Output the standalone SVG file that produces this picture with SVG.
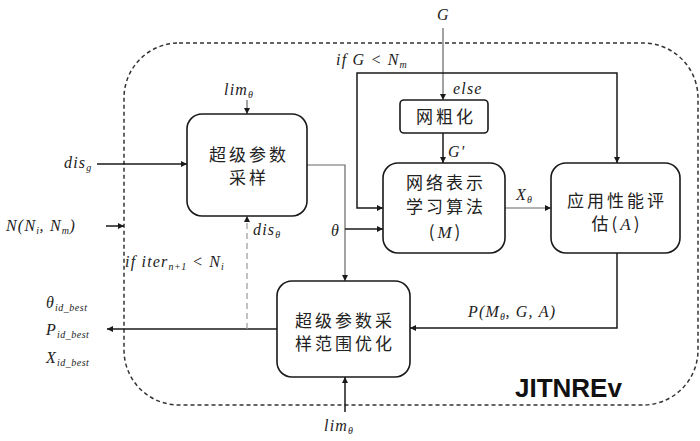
<svg xmlns="http://www.w3.org/2000/svg" width="700" height="441" viewBox="0 0 700 441">
<style>
.box{fill:#fff;stroke:#1a1a1a;stroke-width:1.6}
.cn{font-family:"Noto Sans CJK SC","Noto Sans",sans-serif;font-size:17px;fill:#222;text-anchor:middle;letter-spacing:3px}
.m{font-family:"Liberation Serif",serif;font-style:italic;font-size:16px;fill:#222;letter-spacing:1.2px}
.s{font-size:10px;letter-spacing:0.5px}
.ln{fill:none;stroke:#1a1a1a;stroke-width:1.5}
.lg{fill:none;stroke:#666;stroke-width:1.2}
.dash{fill:none;stroke:#999;stroke-width:1.2;stroke-dasharray:6 4}
</style>
<defs>
<marker id="ar" viewBox="0 0 6 6" refX="6" refY="3" markerWidth="6" markerHeight="6" markerUnits="userSpaceOnUse" orient="auto"><path d="M0,0 L6,3 L0,6 z" fill="#1a1a1a"/></marker>
</defs>
<rect x="124" y="43" width="574" height="362" rx="55" fill="none" stroke="#333" stroke-width="1.5" stroke-dasharray="4 3"/>
<g id="connectors">
<path class="ln" d="M97,164 H187" marker-end="url(#ar)"/>
<path class="ln" d="M106,226 H124" marker-end="url(#ar)"/>
<path class="lg" d="M247,100 V114" marker-end="url(#ar)"/>
<path class="lg" d="M443,28 V100" marker-end="url(#ar)"/>
<path class="ln" d="M443,73 H357 V208 H383" marker-end="url(#ar)"/>
<path class="ln" d="M443,73 H617 V163" marker-end="url(#ar)"/>
<path class="ln" d="M443,133 V163" marker-end="url(#ar)"/>
<path class="lg" d="M307,165 H345 V281" marker-end="url(#ar)"/>
<path class="ln" d="M345,229 H383" marker-end="url(#ar)"/>
<path class="lg" d="M505,208 H551" marker-end="url(#ar)"/>
<path class="ln" d="M617,253 V328 H410" marker-end="url(#ar)"/>
<path class="ln" d="M345,412 V377" marker-end="url(#ar)"/>
<path class="ln" d="M277,329 H107" marker-end="url(#ar)"/>
<path class="dash" d="M247,329 V216" marker-end="url(#ar)"/>
</g>
<g id="n1"><rect class="box" x="187" y="114" width="120" height="102" rx="15"/>
<text class="cn" x="249" y="161">超级参数</text><text class="cn" x="249" y="184">采样</text></g>
<g id="n2"><rect class="box" x="400" y="100" width="88" height="33" rx="4"/>
<text class="cn" x="446" y="123">网粗化</text></g>
<g id="n3"><rect class="box" x="383" y="163" width="122" height="90" rx="15"/>
<text class="cn" x="446" y="189">网络表示</text><text class="cn" x="446" y="213">学习算法</text><text class="cn" x="446" y="238">(<tspan font-family="Liberation Serif" font-style="italic">M</tspan>)</text></g>
<g id="n4"><rect class="box" x="551" y="163" width="129" height="90" rx="15"/>
<text class="cn" x="617" y="207">应用性能评</text><text class="cn" x="617" y="230">估(<tspan font-family="Liberation Serif" font-style="italic">A</tspan>)</text></g>
<g id="n5"><rect class="box" x="277" y="281" width="133" height="96" rx="15"/>
<text class="cn" x="345" y="327">超级参数采</text><text class="cn" x="345" y="350">样范围优化</text></g>
<g id="labels">
<text class="m" x="437" y="20">G</text>
<text class="m" x="336" y="65">if G &lt; N<tspan class="s" dy="3">m</tspan></text>
<text class="m" x="453" y="94">else</text>
<text class="m" x="448" y="157">G'</text>
<text class="m" x="516" y="200">X<tspan class="s" dy="3">θ</tspan></text>
<text class="m" x="224" y="95">lim<tspan class="s" dy="3">θ</tspan></text>
<text class="m" x="64" y="168">dis<tspan class="s" dy="3">g</tspan></text>
<text class="m" x="6" y="231">N(N<tspan class="s" dy="3">i</tspan><tspan dy="-3">, N</tspan><tspan class="s" dy="3">m</tspan><tspan dy="-3">)</tspan></text>
<text class="m" x="253" y="235">dis<tspan class="s" dy="3">θ</tspan></text>
<text class="m" x="125" y="267">if iter<tspan class="s" dy="3">n+1</tspan><tspan dy="-3"> &lt; N</tspan><tspan class="s" dy="3">i</tspan></text>
<text class="m" x="331" y="236">θ</text>
<text class="m" x="46" y="308">θ<tspan class="s" dy="3">id_best</tspan></text>
<text class="m" x="46" y="335">P<tspan class="s" dy="3">id_best</tspan></text>
<text class="m" x="46" y="363">X<tspan class="s" dy="3">id_best</tspan></text>
<text class="m" x="468" y="317">P(M<tspan class="s" dy="3">θ</tspan><tspan dy="-3">, G, A)</tspan></text>
<text class="m" x="324" y="431">lim<tspan class="s" dy="3">θ</tspan></text>
<text x="515" y="397" font-family="Liberation Sans,sans-serif" font-weight="bold" font-size="26" fill="#111">JITNREv</text>
</g>
</svg>
